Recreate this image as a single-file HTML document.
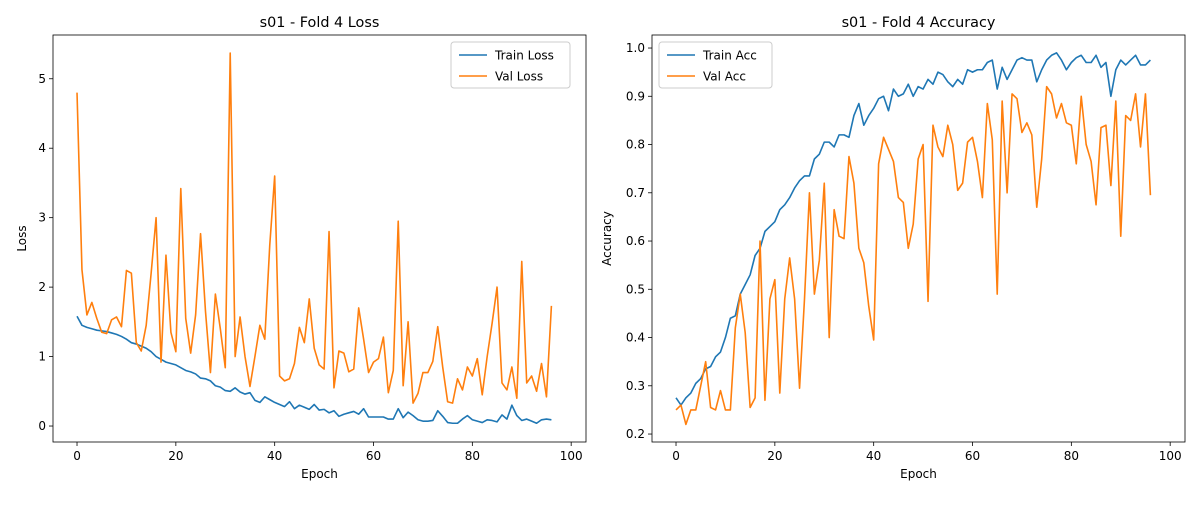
<!DOCTYPE html>
<html><head><meta charset="utf-8"><style>
body{margin:0;background:#fff;font-family:"Liberation Sans","DejaVu Sans",sans-serif;}
svg text{font-family:"DejaVu Sans","Liberation Sans",sans-serif;}
</style></head><body>
<svg id="c" width="1200" height="500" xmlns="http://www.w3.org/2000/svg"></svg>
<script>
const epochs=[...Array(97).keys()];
const trainLoss=[1.58,1.45,1.42,1.4,1.38,1.37,1.36,1.34,1.32,1.29,1.25,1.2,1.18,1.15,1.12,1.07,1.0,0.96,0.92,0.9,0.88,0.84,0.8,0.78,0.75,0.69,0.68,0.65,0.58,0.56,0.51,0.5,0.55,0.49,0.46,0.48,0.37,0.34,0.42,0.38,0.34,0.31,0.28,0.35,0.25,0.3,0.27,0.24,0.31,0.23,0.24,0.19,0.22,0.14,0.17,0.19,0.21,0.17,0.25,0.13,0.13,0.13,0.13,0.1,0.1,0.25,0.12,0.2,0.15,0.09,0.07,0.07,0.08,0.22,0.14,0.05,0.04,0.04,0.1,0.15,0.09,0.07,0.05,0.09,0.08,0.06,0.16,0.1,0.3,0.15,0.08,0.1,0.07,0.04,0.09,0.1,0.09];
const valLoss=[4.8,2.25,1.6,1.78,1.55,1.35,1.33,1.53,1.57,1.43,2.24,2.2,1.2,1.08,1.45,2.2,3.0,0.92,2.46,1.35,1.07,3.42,1.55,1.05,1.6,2.77,1.65,0.77,1.9,1.4,0.84,5.37,1.0,1.57,1.0,0.57,1.0,1.45,1.25,2.6,3.6,0.72,0.65,0.68,0.9,1.42,1.2,1.83,1.12,0.88,0.82,2.8,0.55,1.08,1.05,0.78,0.82,1.7,1.25,0.77,0.92,0.97,1.28,0.48,0.8,2.95,0.58,1.5,0.33,0.47,0.77,0.77,0.93,1.43,0.85,0.35,0.33,0.68,0.52,0.85,0.72,0.97,0.45,1.0,1.48,2.0,0.62,0.52,0.85,0.4,2.37,0.62,0.72,0.5,0.9,0.42,1.73];
const trainAcc=[0.275,0.26,0.275,0.285,0.305,0.315,0.335,0.34,0.36,0.37,0.4,0.44,0.445,0.49,0.51,0.53,0.57,0.585,0.62,0.63,0.64,0.665,0.675,0.69,0.71,0.725,0.735,0.735,0.77,0.78,0.805,0.805,0.795,0.82,0.82,0.815,0.86,0.885,0.84,0.86,0.875,0.895,0.9,0.87,0.915,0.9,0.905,0.925,0.9,0.92,0.915,0.935,0.925,0.95,0.945,0.93,0.92,0.935,0.925,0.955,0.95,0.955,0.955,0.97,0.975,0.915,0.96,0.935,0.955,0.975,0.98,0.975,0.975,0.93,0.955,0.975,0.985,0.99,0.975,0.955,0.97,0.98,0.985,0.97,0.97,0.985,0.96,0.97,0.9,0.955,0.975,0.965,0.975,0.985,0.965,0.965,0.975];
const valAcc=[0.25,0.26,0.22,0.25,0.25,0.3,0.35,0.255,0.25,0.29,0.25,0.25,0.42,0.49,0.41,0.255,0.275,0.6,0.27,0.48,0.52,0.285,0.48,0.565,0.48,0.295,0.48,0.7,0.49,0.56,0.72,0.4,0.665,0.61,0.605,0.775,0.72,0.585,0.555,0.465,0.395,0.76,0.815,0.79,0.765,0.69,0.68,0.585,0.635,0.77,0.8,0.475,0.84,0.795,0.775,0.84,0.8,0.705,0.72,0.805,0.815,0.765,0.69,0.885,0.81,0.49,0.89,0.7,0.905,0.895,0.825,0.845,0.82,0.67,0.77,0.92,0.905,0.855,0.885,0.845,0.84,0.76,0.9,0.8,0.765,0.675,0.835,0.84,0.715,0.89,0.61,0.86,0.85,0.905,0.795,0.905,0.695];
const xTicks=[0,20,40,60,80,100];
const lossTicks=[0,1,2,3,4,5];
const accTicks=[0.2,0.3,0.4,0.5,0.6,0.7,0.8,0.9,1.0];

const NS='http://www.w3.org/2000/svg';
const svg=document.getElementById('c');
function mk(tag,attrs,parent){const e=document.createElementNS(NS,tag);for(const k in attrs)e.setAttribute(k,attrs[k]);(parent||svg).appendChild(e);return e;}
function panel(o){
  const g=mk('g',{});
  
  
  const XMIN=-4.86, XMAX=103.0;
  const X=v=>o.x0+(v-XMIN)/(XMAX-XMIN)*(o.x1-o.x0);
  const Y=v=>o.y1-(v-o.ymin)/(o.ymax-o.ymin)*(o.y1-o.y0);
  xTicks.forEach(t=>{const x=X(t);
    const l=mk('line',{x1:x,x2:x,y1:o.y1,y2:o.y1+4,stroke:'#000','stroke-width':0.8},g);
    
    const tx=mk('text',{x:x,y:o.y1+18,'font-size':12,'text-anchor':'middle'},g);tx.textContent=t;
    });
  o.yt.forEach(t=>{const y=Y(t);
    const l=mk('line',{x1:o.x0-4,x2:o.x0,y1:y,y2:y,stroke:'#000','stroke-width':0.8},g);
    
    const tx=mk('text',{x:o.x0-7,y:y+4,'font-size':12,'text-anchor':'end'},g);tx.textContent=o.fmt(t);
    });
  o.series.forEach(s=>{
    const p=mk('polyline',{points:s.d.map((v,i)=>X(epochs[i])+','+Y(v)).join(' '),fill:'none',stroke:s.c,'stroke-width':1.6,'stroke-linejoin':'round'},g);
    });
  const r=mk('rect',{x:o.x0,y:o.y0,width:o.x1-o.x0,height:o.y1-o.y0,fill:'none',stroke:'#000','stroke-width':0.8},g);
  
  const t=mk('text',{x:(o.x0+o.x1)/2,y:o.y0-8,'font-size':14.4,'text-anchor':'middle'},g);t.textContent=o.title;
  
  const xl=mk('text',{x:(o.x0+o.x1)/2,y:o.y1+36,'font-size':12,'text-anchor':'middle'},g);xl.textContent='Epoch';
  
  const yx=o.ylx;const yy=(o.y0+o.y1)/2;
  const yl=mk('text',{x:yx,y:yy,'font-size':12,'text-anchor':'middle',transform:`rotate(-90 ${yx} ${yy})`},g);yl.textContent=o.ylabel;
  
  const lg=mk('g',{},g);
  
  mk('rect',{x:o.lx,y:42,width:o.lw,height:46,rx:3,fill:'#fff',stroke:'#ccc','stroke-width':1},lg);
  o.series.forEach((s,i)=>{const y=55+i*21;
    mk('line',{x1:o.lx+8,x2:o.lx+36,y1:y,y2:y,stroke:s.c,'stroke-width':1.6},lg);
    const e=mk('text',{x:o.lx+44,y:y+4.5,'font-size':12},lg);e.textContent=s.label;
    });
}
panel({name:'loss-panel',x0:53,x1:586,y0:35,y1:442,ymin:-0.23,ymax:5.63,yt:lossTicks,fmt:t=>t,title:'s01 - Fold 4 Loss',ylabel:'Loss',ylx:26,lx:451,lw:119,
  series:[{d:trainLoss,c:'#1f77b4',n:'train-loss-line',label:'Train Loss'},{d:valLoss,c:'#ff7f0e',n:'val-loss-line',label:'Val Loss'}]});
panel({name:'accuracy-panel',x0:652,x1:1185,y0:35,y1:442,ymin:0.1835,ymax:1.027,yt:accTicks,fmt:t=>t.toFixed(1),title:'s01 - Fold 4 Accuracy',ylabel:'Accuracy',ylx:611,lx:659,lw:113,
  series:[{d:trainAcc,c:'#1f77b4',n:'train-acc-line',label:'Train Acc'},{d:valAcc,c:'#ff7f0e',n:'val-acc-line',label:'Val Acc'}]});
</script>
</body></html>
